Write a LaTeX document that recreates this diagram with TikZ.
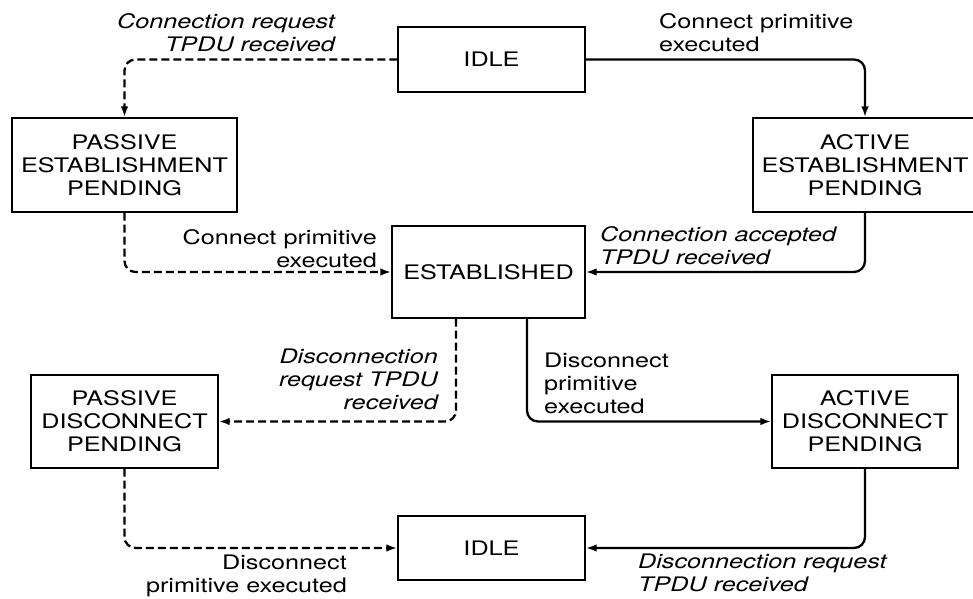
\documentclass[tikz,border=0pt]{standalone}
\usepackage{fontspec}
\newfontfamily\helv[FakeStretch=1.26]{TeX Gyre Heros}
\usetikzlibrary{arrows.meta}
\begin{document}
\begin{tikzpicture}[x=1bp,y=-1bp,
  every node/.style={font=\helv\fontsize{20bp}{23bp}\selectfont},
  state/.style={draw,line width=1.2bp,align=center,inner sep=0pt},
  trans/.style={line width=2.3bp,rounded corners=11bp,-{Latex[length=11bp,width=7.5bp]}},
  dtrans/.style={trans,dash pattern=on 8bp off 4bp},
  lbl/.style={inner sep=0pt},
  ilbl/.style={inner sep=0pt,font=\helv\itshape\fontsize{20bp}{23bp}\selectfont}]
\useasboundingbox (0,0) rectangle (973,599);
\node[state,minimum width=187bp,minimum height=65bp] (idle) at (491.5,59.5) {IDLE};
\node[state,minimum width=225bp,minimum height=94bp] (pest) at (124.5,165) {PASSIVE\\ESTABLISHMENT\\PENDING};
\node[state,minimum width=224bp,minimum height=94bp] (aest) at (865,165) {ACTIVE\\ESTABLISHMENT\\PENDING};
\node[state,minimum width=193bp,minimum height=92bp] (est) at (488.5,272) {ESTABLISHED};
\node[state,minimum width=187bp,minimum height=93bp] (pdis) at (124.5,421.5) {PASSIVE\\DISCONNECT\\PENDING};
\node[state,minimum width=186bp,minimum height=93bp] (adis) at (865,421.5) {ACTIVE\\DISCONNECT\\PENDING};
\node[state,minimum width=187bp,minimum height=64bp] (idle2) at (491.5,548) {IDLE};
\draw[dtrans] (idle.west) -| (pest.north);
\draw[trans] (idle.east) -| (aest.north);
\draw[dtrans] (pest.south) |- (est.west);
\draw[trans] (aest.south) |- (est.east);
\draw[dtrans] ([xshift=-32.5bp]est.south) |- (pdis.east);
\draw[trans] ([xshift=38.5bp]est.south) |- (adis.west);
\draw[dtrans] (pdis.south) |- (idle2.west);
\draw[trans] (adis.south) |- (idle2.east);
\node[ilbl,anchor=north east,align=right] (l1) at (335,13) {Connection request\\TPDU received};
\node[lbl,anchor=north west,align=left] (l2) at (659,13) {Connect primitive\\executed};
\node[lbl,anchor=north east,align=right] (l3) at (377,229) {Connect primitive\\executed};
\node[ilbl,anchor=north west,align=left] (l4) at (600,226) {Connection accepted\\TPDU received};
\node[ilbl,anchor=north east,align=right] (l5) at (438,349) {Disconnection\\request TPDU\\received};
\node[lbl,anchor=north west,align=left] (l6) at (544,353) {Disconnect\\primitive\\executed};
\node[lbl,anchor=north east,align=right] (l7) at (347,555) {Disconnect\\primitive executed};
\node[ilbl,anchor=north west,align=left] (l8) at (638,554) {Disconnection request\\TPDU received};
\end{tikzpicture}
\end{document}
